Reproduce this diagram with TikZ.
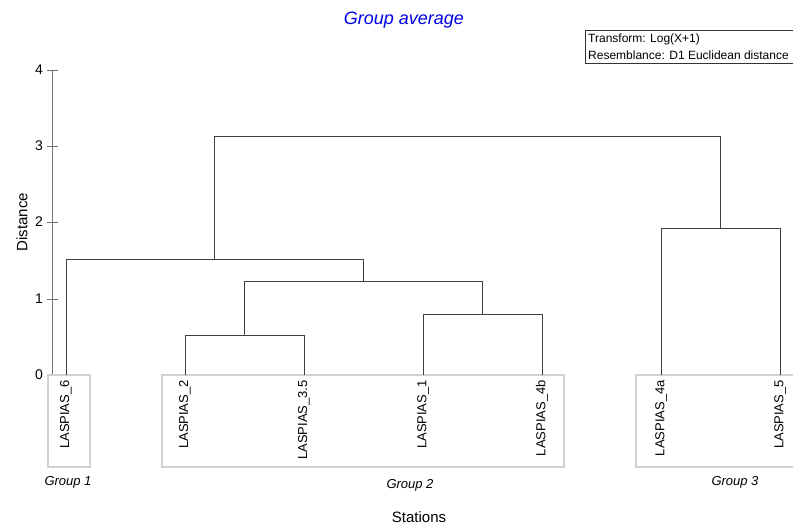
\documentclass[tikz,border=0pt]{standalone}
\usepackage{fontspec}
\setmainfont{Liberation Sans}
\begin{document}
\begin{tikzpicture}[x=1pt,y=1pt,
  dline/.style={draw=black!75,line width=0.7pt},
  axline/.style={draw=black!55,line width=0.8pt},
  grpbox/.style={draw=black!18,line width=2.6pt},
  leaf/.style={rotate=90,anchor=east,font=\fontsize{13}{15}\selectfont,inner sep=0pt},
  glabel/.style={font=\itshape\fontsize{13}{15}\selectfont},
  tlabel/.style={anchor=east,font=\fontsize{14}{16}\selectfont,inner sep=0pt}]
\clip (0,0) rectangle (793,-525);
\fill[white] (0,0) rectangle (793,-525);
% title
\node[font=\itshape\fontsize{18}{20}\selectfont,text=blue!90!black] (title) at (404,-20) {Group average};
% legend
\draw[black!80,line width=0.7pt] (585.5,-30) rectangle (800,-63);
\node[anchor=west,font=\fontsize{12}{14}\selectfont,inner sep=0pt] (leg1) at (588,-39) {Transform: Log(X+1)};
\node[anchor=west,font=\fontsize{12}{14}\selectfont,inner sep=0pt] (leg2) at (588,-55) {Resemblance: D1 Euclidean distance};
% axis
\draw[axline] (52,-70) -- (52,-375);
\foreach \v/\yy in {0/375,1/299,2/222,3/146,4/70}{
  \draw[axline] (47,-\yy) -- (58,-\yy);
  \node[tlabel] at (43,-\yy) {\v};
}
\node[rotate=90,font=\fontsize{15}{17}\selectfont] (ylab) at (22,-222) {Distance};
\node[font=\fontsize{15}{17}\selectfont] (xlab) at (419,-517) {Stations};
% group boxes
\draw[grpbox] (48,-375) rectangle (90,-467);
\draw[grpbox] (162,-375) rectangle (564,-467);
\draw[grpbox] (636,-375) rectangle (810,-467);
\node[glabel] (g1) at (68,-482) {Group 1};
\node[glabel] (g2) at (410,-485) {Group 2};
\node[glabel] (g3) at (735,-482) {Group 3};
% leaves
\foreach \n/\x/\t in {l6/66/LASPIAS\_6,l2/185/LASPIAS\_2,l35/304/LASPIAS\_3.5,l1/423/LASPIAS\_1,l4b/542/LASPIAS\_4b,l4a/661/LASPIAS\_4a,l5/780/LASPIAS\_5}{
  \coordinate (\n) at (\x,-375);
  \node[leaf] (\n t) at (\x,-380) {\t};
}
% dendrogram
\draw[dline] (l2) |- (185,-335) -| (l35);
\draw[dline] (l1) |- (423,-314) -| (l4b);
\coordinate (m1) at (244.5,-335);
\coordinate (m2) at (482.5,-314);
\draw[dline] (m1) |- (244.5,-281) -| (m2);
\coordinate (m3) at (363.5,-281);
\draw[dline] (l6) |- (66,-259) -| (m3);
\coordinate (m4) at (214.75,-259);
\draw[dline] (l4a) |- (661,-228) -| (l5);
\coordinate (m5) at (720.5,-228);
\draw[dline] (m4) |- (214.75,-136) -| (m5);
\end{tikzpicture}
\end{document}
